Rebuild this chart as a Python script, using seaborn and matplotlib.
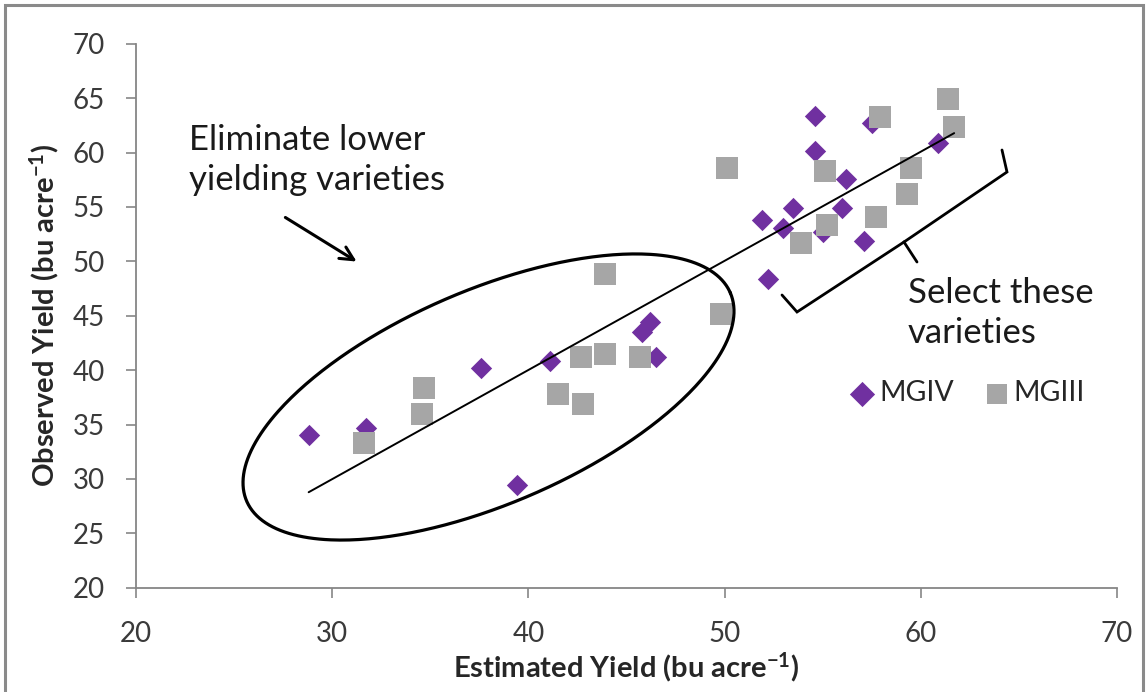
import numpy as np
import pandas as pd
import matplotlib
matplotlib.use("Agg")
import matplotlib.pyplot as plt
from matplotlib.patches import Rectangle
import seaborn as sns

# ---------------- data ----------------
mgiv_est = [54.6, 57.5, 60.9, 54.6, 56.2, 53.5, 56.0, 51.9, 53.0, 55.0,
            57.1, 52.2, 46.2, 45.8, 46.5, 41.1, 37.6, 28.8, 31.7, 39.4]
mgiv_obs = [63.4, 62.7, 60.9, 60.1, 57.6, 54.9, 54.9, 53.8, 53.1, 52.7,
            51.9, 48.4, 44.4, 43.5, 41.2, 40.8, 40.2, 34.0, 34.7, 29.4]
mgiii_est = [57.9, 61.4, 61.7, 50.1, 55.1, 59.5, 59.3, 57.7, 55.2, 53.9,
             43.9, 49.8, 45.7, 43.9, 42.7, 41.5, 42.8, 34.7, 34.6, 31.6]
mgiii_obs = [63.3, 64.9, 62.3, 58.6, 58.3, 58.6, 56.2, 54.1, 53.3, 51.7,
             48.8, 45.2, 41.2, 41.5, 41.2, 37.8, 36.9, 38.4, 36.0, 33.3]
groups = ["MGIV", "MGIII"]
colors = {"MGIV": "#7030A0", "MGIII": "#A6A6A6"}
x_label = r"Estimated Yield (bu acre$^{\mathbf{-1}}$)"
y_label = r"Observed Yield (bu acre$^{\mathbf{-1}}$)"
ticks_x = [20, 30, 40, 50, 60, 70]
ticks_y = [20, 25, 30, 35, 40, 45, 50, 55, 60, 65, 70]

df = pd.DataFrame({
    "est": mgiv_est + mgiii_est,
    "obs": mgiv_obs + mgiii_obs,
    "group": ["MGIV"] * len(mgiv_est) + ["MGIII"] * len(mgiii_est),
})

# ---------------- style ----------------
sns.set_theme(style="white")
plt.rcParams["font.family"] = ["Lato", "DejaVu Sans"]
plt.rcParams["mathtext.fontset"] = "custom"
plt.rcParams["mathtext.rm"] = "Lato"
plt.rcParams["mathtext.bf"] = "Lato:bold"
plt.rcParams["mathtext.it"] = "Lato:italic"

W, H = 1148, 692
fig = plt.figure(figsize=(W / 100, H / 100), dpi=100)
fig.patch.set_facecolor("white")
ax = fig.add_axes([136 / W, 1 - 587.7 / H, (1117 - 136) / W, (587.7 - 43.7) / H])

# helper: pixel location in the reference -> data coordinates (for annotations)
def pd_(px, py):
    return 20 + (px - 136) / 19.62, 70 - (py - 43.7) / 10.88

# points
sns.scatterplot(data=df[df.group == "MGIV"], x="est", y="obs", marker="D",
                color=colors["MGIV"], s=118, linewidth=0, ax=ax, label="MGIV", zorder=3)
sns.scatterplot(data=df[df.group == "MGIII"], x="est", y="obs", marker="s",
                color=colors["MGIII"], s=250, linewidth=0, ax=ax, label="MGIII", zorder=4)

# trend line
sns.regplot(data=df, x="est", y="obs", scatter=False, ci=None, truncate=True,
            color="black", line_kws={"lw": 1.4, "zorder": 5}, ax=ax)

ax.set_xlim(20, 70)
ax.set_ylim(20, 70)
ax.set_xticks(ticks_x)
ax.set_yticks(ticks_y)
for s in ["top", "right"]:
    ax.spines[s].set_visible(False)
for s in ["left", "bottom"]:
    ax.spines[s].set_color("#868686")
    ax.spines[s].set_linewidth(1.3)
ax.tick_params(axis="both", direction="out", length=7.2, width=1.2, color="#868686",
               labelsize=20, labelcolor="#3a3a3a", left=True, bottom=True)
ax.tick_params(axis="x", pad=17)
ax.tick_params(axis="y", pad=15)
ax.set_xlabel(x_label, fontsize=21, fontweight="bold", labelpad=2)
ax.set_ylabel(y_label, fontsize=21, fontweight="bold")
ax.yaxis.set_label_coords((61 - 136) / 981, 0.5)

# ellipse (built in reference pixel space, mapped to data)
t = np.linspace(0, 2 * np.pi, 400)
cx, cy, a, b, th = 488.5, 397.0, 263.3, 106.8, np.deg2rad(23.3)
ex = cx + a * np.cos(t) * np.cos(th) + b * np.sin(t) * np.sin(th)
ey = cy - a * np.cos(t) * np.sin(th) + b * np.sin(t) * np.cos(th)
exd, eyd = pd_(ex, ey)
ax.plot(exd, eyd, color="black", lw=2.3, zorder=6, clip_on=False)

# bracket
bl = [pd_(782, 295), pd_(797, 312), pd_(904, 242)]
br = [pd_(904, 242), pd_(1007, 172), pd_(1002, 150)]
tip = [pd_(904, 242), pd_(917, 262)]
for seg in (bl, br, tip):
    xs, ys = zip(*seg)
    ax.plot(xs, ys, color="black", lw=2.0, zorder=6, clip_on=False,
            solid_joinstyle="miter")

# arrow
ax.annotate("", xy=pd_(359, 263), xytext=pd_(283, 216),
            arrowprops=dict(arrowstyle="->", lw=2.2, color="black",
                            mutation_scale=24), zorder=6)

# texts
ax.text(*pd_(189, 124), "Eliminate lower\nyielding varieties", fontsize=25,
        ha="left", va="top", color="#1a1a1a", linespacing=1.3)
ax.text(*pd_(908, 277), "Select these\nvarieties", fontsize=25,
        ha="left", va="top", color="#1a1a1a", linespacing=1.3)

# legend
leg = ax.legend(loc="center left", bbox_to_anchor=((848 - 136) / 981, (587.7 - 393) / 544),
                ncol=2, frameon=False, fontsize=20.5, handletextpad=0.1,
                handlelength=1.0, columnspacing=1.0, markerscale=1.0,
                borderaxespad=0, borderpad=0)
leg.legend_handles[0].set_sizes([165])
leg.legend_handles[1].set_sizes([200])
for txt in leg.get_texts():
    txt.set_color("#262626")

# figure border
fig.add_artist(Rectangle((5 / W, -0.05), (1143 - 5) / W, 1.05 - 5 / H,
                         transform=fig.transFigure, fill=False,
                         edgecolor="#8a8a8a", lw=2.2))

fig.savefig("out.png", dpi=100)
